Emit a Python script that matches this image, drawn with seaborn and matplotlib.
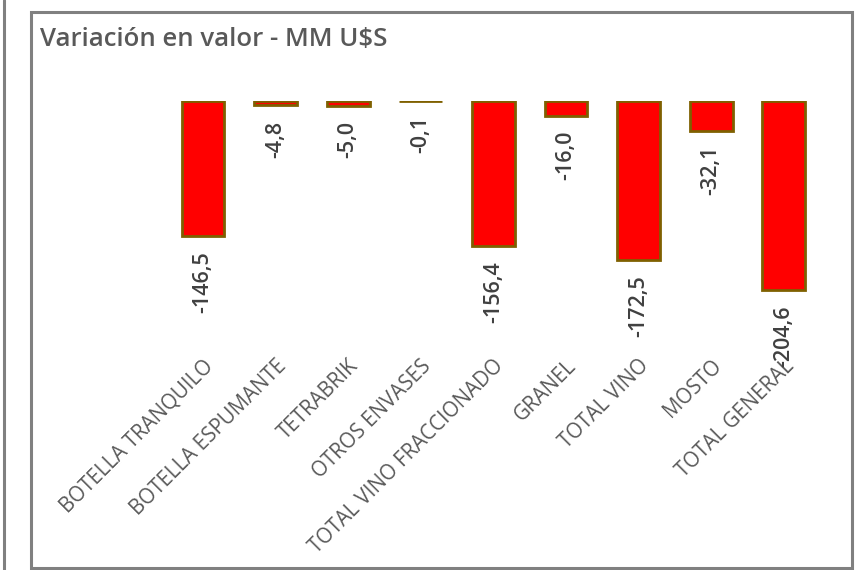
import matplotlib
matplotlib.use("Agg")
import matplotlib.pyplot as plt
import seaborn as sns
from matplotlib.patches import Rectangle
from matplotlib.lines import Line2D

categories = ["BOTELLA TRANQUILO", "BOTELLA ESPUMANTE", "TETRABRIK", "OTROS ENVASES",
              "TOTAL VINO FRACCIONADO", "GRANEL", "TOTAL VINO", "MOSTO", "TOTAL GENERAL"]
values = [-146.5, -4.8, -5.0, -0.1, -156.4, -16.0, -172.5, -32.1, -204.6]
title = "Variación en valor - MM U$S"

sns.set_theme(style="white")
plt.rcParams['font.family'] = ['Open Sans', 'DejaVu Sans']

fig = plt.figure(figsize=(8.59, 5.70), dpi=100)
fig.patch.set_facecolor("white")

# outer frame and left line
fig.add_artist(Rectangle((31/859, 2/570), (852-31)/859, (558-2)/570, transform=fig.transFigure,
                         fill=False, edgecolor="#808080", linewidth=2.2))
fig.add_artist(Line2D([4/859, 4/859], [0, 1], transform=fig.transFigure, color="#808080", linewidth=2.2))

ax = fig.add_axes([166.7/859, 220/570, (820-166.7)/859, 249/570])
sns.barplot(x=categories, y=values, color="#FF0000", saturation=1, edgecolor="#7F6000",
            linewidth=2, width=0.59, ax=ax)
ax.set_ylim(-269.5, 0)
ax.set_xlim(-0.5, 8.5)
for s in ax.spines.values():
    s.set_visible(False)
ax.set_yticks([])
ax.set_xlabel("")
ax.set_ylabel("")
ax.patch.set_alpha(0)
ax.tick_params(axis="x", length=0, pad=4, colors="#595959", labelsize=14.8)
plt.setp(ax.get_xticklabels(), rotation=45, ha="right", rotation_mode="anchor", color="#595959")

labels = [f"{v:.1f}".replace(".", ",") for v in values]
ax.bar_label(ax.containers[0], labels=labels, rotation=90, padding=11, color="#404040",
             fontsize=15.5, fontweight="semibold")

fig.text(40/859, 1 - 40/570, title, fontsize=18.5, color="#595959", va="center", ha="left",
         fontweight="semibold")

fig.savefig("out.png", dpi=100)
